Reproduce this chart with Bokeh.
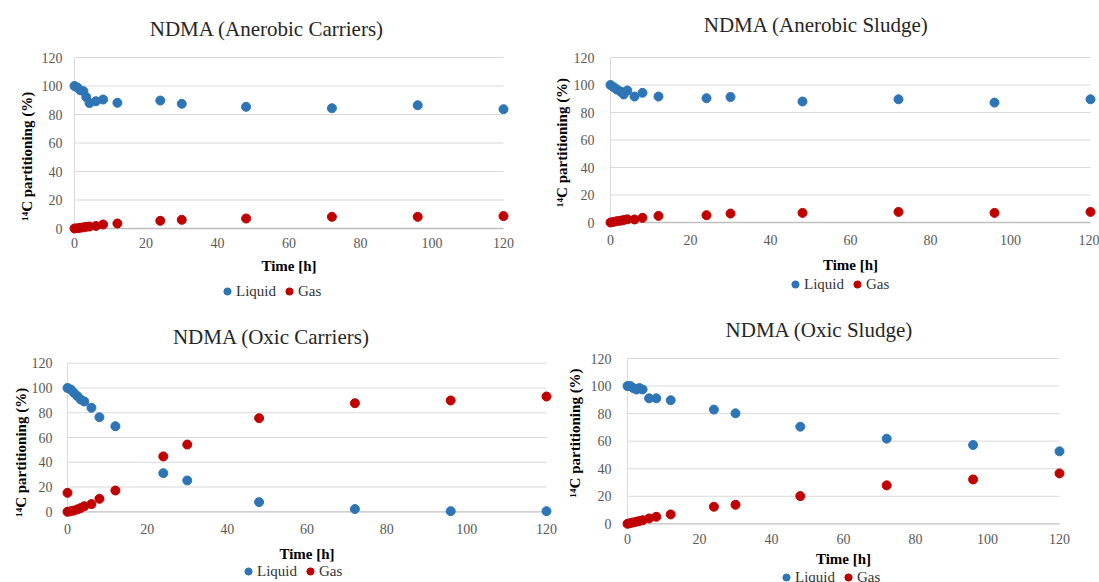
from bokeh.plotting import figure
from bokeh.models import Range1d, FixedTicker, Legend, LegendItem, Label, LinearAxis
from bokeh.embed import file_html
from bokeh.resources import INLINE

# ---------------- data ----------------
times = [0, 0.8, 1.6, 2.5, 3.3, 4.2, 6, 8, 12, 24, 30, 48, 72, 96, 120]

ac_liquid = [100, 99, 97, 96.4, 92.2, 88, 89.3, 90.5, 88.2, 89.8, 87.5, 85.4, 84.4, 86.5, 83.7]
ac_gas = [0, 0.2, 0.5, 0.8, 1.2, 1.4, 1.8, 2.8, 3.5, 5.4, 6.1, 7.0, 8.2, 8.2, 8.7]

as_liquid = [100, 98.4, 96.7, 95.3, 93.1, 96, 91.6, 94.3, 91.6, 90.4, 91.3, 88, 89.6, 87.2, 89.6]
as_gas = [0, 0.5, 1, 1.3, 1.8, 2.3, 2.2, 3.4, 4.8, 5.3, 6.5, 7, 7.7, 7, 7.7]

oc_liquid = [100, 98.8, 96.1, 93.4, 90.7, 89.1, 84, 76.4, 69.1, 31.2, 25.3, 7.8, 2.2, 0.5, 0.5]
oc_gas = [0, 0.5, 1, 2, 3, 4.5, 6.2, 10.5, 17.2, 44.7, 54.3, 75.6, 87.7, 89.9, 93.1]
oc_gas_extra_t = [0]
oc_gas_extra = [15.3]

os_liquid = [100, 100, 98.5, 97.5, 98.5, 97.5, 91.1, 91.1, 89.7, 82.9, 80.2, 70.5, 61.8, 57.2, 52.6]
os_gas = [0, 0.5, 1, 1.5, 2, 2.6, 3.9, 5.1, 6.8, 12.4, 13.8, 20.1, 27.9, 32.2, 36.6]

titles = ["NDMA (Anerobic Carriers)", "NDMA (Anerobic Sludge)",
          "NDMA (Oxic Carriers)", "NDMA (Oxic Sludge)"]
x_ticks = [0, 20, 40, 60, 80, 100, 120]
y_ticks = [0, 20, 40, 60, 80, 100, 120]
X_MIN, X_MAX = 0, 120
Y_MIN, Y_MAX = 0, 120
series_names = ["Liquid", "Gas"]
x_title = "Time [h]"
y_title = "¹⁴C partitioning  (%)"

BLUE = "#2E75B6"
RED = "#C00000"
SERIF = "Liberation Serif"
W, H = 1099, 582

p = figure(width=W, height=H, output_backend="svg", toolbar_location=None, title=None,
           x_range=Range1d(0, W), y_range=Range1d(H, 0),
           x_axis_location=None, y_axis_location=None)
p.min_border = 0
p.outline_line_color = None
p.xgrid.visible = False
p.ygrid.visible = False


def style_axis(ax):
    ax.axis_line_color = None
    ax.major_tick_line_color = None
    ax.minor_tick_line_color = None
    ax.major_tick_out = 0
    ax.major_label_text_font = SERIF
    ax.major_label_text_font_size = "14px"
    ax.major_label_text_color = "#595959"
    ax.axis_label_text_font = SERIF
    ax.axis_label_text_font_size = "15px"
    ax.axis_label_text_font_style = "bold"
    ax.axis_label_text_color = "#000000"


def panel(key, title, liq_t, liq, gas_t, gas, x0, x120, y120, y0,
          title_c, xl_so, xal_so, yl_so, yal_so, ylab_c, leg_lb):
    # pixel placement of the plot area (layout only); data go through the scales
    sx = (x120 - x0) / (X_MAX - X_MIN)
    sy = (y0 - y120) / (Y_MAX - Y_MIN)
    p.extra_x_ranges[key] = Range1d(X_MIN - x0 / sx, X_MIN + (W - x0) / sx)
    p.extra_y_ranges[key] = Range1d(Y_MIN - (H - y0) / sy, Y_MIN + y0 / sy)
    kw = dict(x_range_name=key, y_range_name=key)

    gl = [t for t in y_ticks if t > Y_MIN]
    p.segment(x0=[X_MIN] * len(gl), y0=gl, x1=[X_MAX] * len(gl), y1=gl,
              line_color="#D9D9D9", line_width=1, **kw)
    p.segment(x0=[X_MIN], y0=[Y_MIN], x1=[X_MIN], y1=[Y_MAX], line_color="#D9D9D9",
              line_width=1, **kw)
    p.segment(x0=[X_MIN], y0=[Y_MIN], x1=[X_MAX], y1=[Y_MIN], line_color="#BFBFBF",
              line_width=1.3, **kw)

    r1 = p.scatter(liq_t, liq, size=9, color=BLUE, **kw)
    r2 = p.scatter(gas_t, gas, size=9, color=RED, **kw)

    xa = LinearAxis(fixed_location=Y_MIN, ticker=FixedTicker(ticks=x_ticks),
                    bounds=(X_MIN, X_MAX),
                    axis_label=x_title, major_label_standoff=xl_so,
                    axis_label_standoff=xal_so, **kw)
    style_axis(xa)
    p.add_layout(xa, "below")

    # axis-title centre expressed as axis bounds
    yc = Y_MIN + (y0 - ylab_c) / sy
    ya = LinearAxis(fixed_location=X_MIN, ticker=FixedTicker(ticks=y_ticks),
                    bounds=(min(Y_MIN, 2 * yc - Y_MAX), max(Y_MAX, 2 * yc - Y_MIN)),
                    axis_label=y_title, major_label_standoff=yl_so,
                    axis_label_standoff=yal_so, **kw)
    style_axis(ya)
    p.add_layout(ya, "left")

    p.add_layout(Label(x=title_c[0], y=title_c[1], text=title, text_align="center",
                       text_baseline="middle", text_font=SERIF, text_font_size="21px",
                       text_color="#262626"))

    leg = Legend(items=[LegendItem(label=series_names[0], renderers=[r1]),
                        LegendItem(label=series_names[1], renderers=[r2])],
                 orientation="horizontal",
                 location=(int(round(leg_lb[0])), int(round(H - leg_lb[1]))),
                 border_line_color=None, background_fill_alpha=0,
                 label_text_font=SERIF, label_text_font_size="15px",
                 label_text_color="#333333", glyph_width=18, glyph_height=18,
                 label_standoff=-5, spacing=4, padding=0, margin=0)
    p.add_layout(leg)


panel("ac", titles[0], times, ac_liquid, times, ac_gas, 74, 503, 57, 228,
      (266.5, 28.3), 9, 7, 12, 4, 154, (218, 300.5))
panel("as", titles[1], times, as_liquid, times, as_gas, 610, 1090, 57, 222,
      (815.8, 24.2), 12, 9, 16, 1, 140, (786, 293))
panel("oc", titles[2], times, oc_liquid, times + oc_gas_extra_t, oc_gas + oc_gas_extra,
      67, 546, 362.7, 511.3, (271, 336.3), 12, 9, 15, 0, 450, (239, 580))
panel("os", titles[3], times, os_liquid, times, os_gas, 627, 1059, 358, 523.3,
      (819, 329.3), 10, 4, 16, 5, 430.7, (777, 586))

open("out.html", "w").write(file_html(p, INLINE))
